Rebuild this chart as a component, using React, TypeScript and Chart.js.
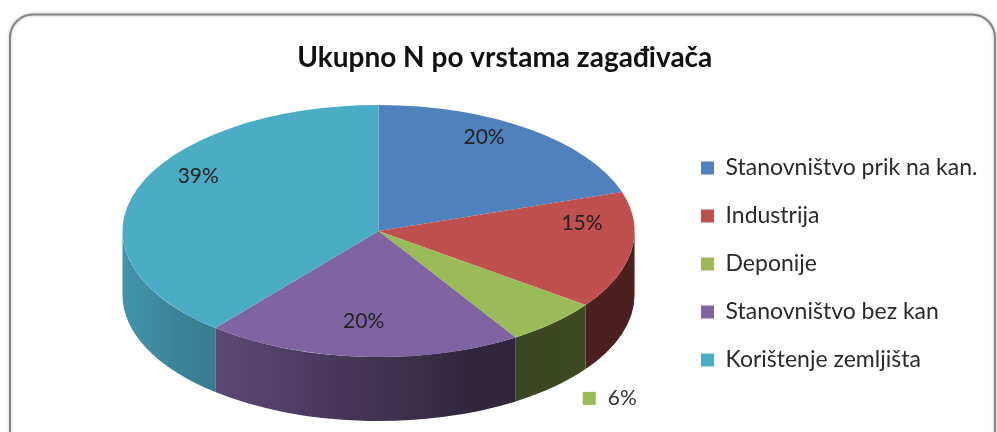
import React, { useEffect, useRef } from "react";
import { Chart, registerables } from "chart.js";

Chart.register(...registerables);

// ---- data ----
const TITLE = "Ukupno N po vrstama zagađivača";
const categories = [
  "Stanovništvo prik na kan.",
  "Industrija",
  "Deponije",
  "Stanovništvo bez kan",
  "Korištenje zemljišta",
];
const values = [20, 15, 6, 20, 39];

// ---- styles ----
const colors = ["#4F81BD", "#C0504D", "#9BBB59", "#8064A2", "#4BACC6"];
const FONT = "Lato, 'Open Sans', 'DejaVu Sans', sans-serif";
// 3D view: horizontal/vertical stretch of the library's circle, shift, wall depth, perspective for labels
const VIEW = { sx: 1.524, sy: 0.75, shiftX: 29.5, lift: 33, depth: 64, persp: 0.186, labelFrac: 0.8 };

function shade(hex: string, f: number) {
  const n = parseInt(hex.slice(1), 16);
  const r = Math.round(((n >> 16) & 255) * f);
  const g = Math.round(((n >> 8) & 255) * f);
  const b = Math.round((n & 255) * f);
  return `rgb(${r},${g},${b})`;
}

function geom(chart: any) {
  const meta = chart.getDatasetMeta(0);
  const a0: any = meta.data[0];
  const R = a0.outerRadius;
  return {
    meta,
    ox: a0.x,
    oy: a0.y,
    cx: a0.x + VIEW.shiftX,
    cy: a0.y - VIEW.lift,
    rx: R * VIEW.sx,
    ry: R * VIEW.sy,
  };
}

const framePlugin = {
  id: "frame",
  beforeDraw(chart: any) {
    const ctx = chart.ctx;
    ctx.save();
    ctx.fillStyle = "#ffffff";
    ctx.fillRect(0, 0, chart.width, chart.height);
    ctx.shadowColor = "rgba(0,0,0,0.3)";
    ctx.shadowBlur = 3;
    ctx.strokeStyle = "#858585";
    ctx.lineWidth = 2;
    ctx.beginPath();
    ctx.roundRect(10, 14.5, 985, 470, 23);
    ctx.stroke();
    ctx.restore();
  },
};

const pie3dPlugin = {
  id: "pie3d",
  beforeDatasetsDraw(chart: any) {
    const ctx = chart.ctx;
    const { meta, ox, oy, cx, cy, rx, ry } = geom(chart);
    const D = VIEW.depth;
    meta.data.forEach((arc: any, i: number) => {
      const lo = Math.max(arc.startAngle, 0);
      const hi = Math.min(arc.endAngle, Math.PI);
      if (lo >= hi) return;
      const col = colors[i];
      const grad = ctx.createLinearGradient(cx - rx, 0, cx + rx, 0);
      grad.addColorStop(0, shade(col, 0.86));
      grad.addColorStop(0.15, shade(col, 0.74));
      grad.addColorStop(0.7, shade(col, 0.37));
      grad.addColorStop(1, shade(col, 0.4));
      ctx.save();
      ctx.beginPath();
      ctx.ellipse(cx, cy, rx, ry, 0, lo, hi, false);
      ctx.ellipse(cx, cy + D, rx, ry, 0, hi, lo, true);
      ctx.closePath();
      ctx.fillStyle = grad;
      ctx.fill();
      ctx.restore();
    });
    ctx.save();
    ctx.translate(cx, cy);
    ctx.scale(VIEW.sx, VIEW.sy);
    ctx.translate(-ox, -oy);
  },
  afterDatasetsDraw(chart: any) {
    const ctx = chart.ctx;
    ctx.restore();
    const { meta, cx, cy, rx, ry } = geom(chart);
    const k = VIEW.persp;
    const pcy = cy - ry * k;
    const prx = rx * Math.sqrt(1 - k * k);
    const pry = ry * (1 - k * k);
    const total = values.reduce((s, v) => s + v, 0);
    ctx.save();
    ctx.font = `21px ${FONT}`;
    ctx.textBaseline = "middle";
    meta.data.forEach((arc: any, i: number) => {
      const mid = (arc.startAngle + arc.endAngle) / 2;
      const share = values[i] / total;
      const text = Math.round(share * 100) + "%";
      if (share < 0.1) {
        const ex = cx + rx * Math.cos(mid);
        const ey = cy + ry * Math.sin(mid) + VIEW.depth;
        const kx = ex + 35;
        const ky = ey + 11;
        ctx.fillStyle = colors[i];
        ctx.fillRect(kx - 6, ky - 6, 13, 13);
        ctx.fillStyle = "#333333";
        ctx.textAlign = "left";
        ctx.fillText(text, kx + 19, ky);
      } else {
        const f = VIEW.labelFrac;
        const w = 1 - k * f * Math.sin(mid);
        const x = cx + (prx * f * Math.cos(mid)) / w;
        const y = pcy + (pry * f * Math.sin(mid)) / w;
        ctx.fillStyle = "#222222";
        ctx.textAlign = "center";
        ctx.fillText(text, x, y);
      }
    });
    ctx.restore();
  },
};

export default function App() {
  const ref = useRef<HTMLCanvasElement>(null);
  useEffect(() => {
    if (!ref.current) return;
    const chart = new Chart(ref.current, {
      type: "pie",
      data: {
        labels: categories,
        datasets: [
          {
            data: values,
            backgroundColor: colors,
            borderWidth: 0,
            clip: false as any,
          } as any,
        ],
      },
      options: {
        responsive: false,
        animation: false,
        events: [],
        layout: { padding: { left: 22, right: 9.5, top: 30, bottom: 0 } },
        plugins: {
          tooltip: { enabled: false },
          title: {
            display: true,
            text: TITLE,
            color: "#111111",
            font: { family: FONT, size: 28, weight: "bold", lineHeight: 1.2 },
            padding: { top: 11, bottom: 21.4 },
          },
          legend: {
            display: true,
            position: "right",
            fullSize: false,
            labels: {
              boxWidth: 13,
              boxHeight: 13,
              padding: 25,
              color: "#2a2a2a",
              font: { family: FONT, size: 23 },
            },
          },
        },
      } as any,
      plugins: [framePlugin, pie3dPlugin],
    });
    return () => chart.destroy();
  }, []);
  return (
    <div style={{ position: "fixed", left: 0, top: 0, width: 997, height: 432 }}>
      <canvas ref={ref} width={997} height={432} style={{ display: "block" }} />
    </div>
  );
}
